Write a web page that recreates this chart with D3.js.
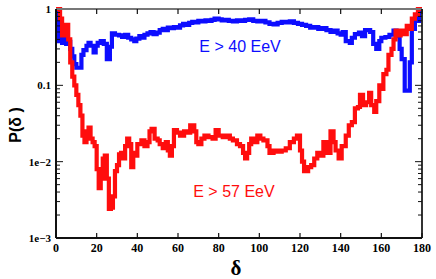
<!DOCTYPE html>
<html><head><meta charset="utf-8">
<script src="https://cdn.jsdelivr.net/npm/d3@7"></script>
<style>body{margin:0;background:#fff}svg{display:block}</style>
</head><body>
<script>
const xTicks = [0,20,40,60,80,100,120,140,160,180];
const yTicks = [1e-3,1e-2,0.1,1];
const yTickLabels = ["1e\u22123","1e\u22122","0.1","1"];
const labels = ["E > 40 EeV","E > 57 EeV"];

const blueDelta = [0,1,2,3,4,5,6,7,8,9,10,12.5,13.5,15,16,17,18.5,19.5,20.5,22,23.5,25,26.5,27.5,29,31,32.5,34,35.5,37,38.5,39.5,41,42.5,43.5,45,46.5,48,49.5,51,52.5,54,55,56.5,58,59.5,61,62.5,64,65.5,67,68.5,70,72,73.5,75,76.5,78,80,81.5,83,85,87,89,91,93,95,97,99,101,103,105,107,109,111,113,115,117,119,121,123,125,127,129,131,133,135,137,138.5,140,141,142.5,144.5,145.5,147,149,150.5,152,154.5,156,157.5,159,160,162,164,166,167.5,169,170,171.5,174,175,176.5,178.5,180];
const blueP = [1.0,0.38,0.45,0.36,0.42,0.35,0.37,0.30,0.24,0.19,0.17,0.25,0.29,0.33,0.36,0.33,0.27,0.33,0.36,0.38,0.35,0.22,0.32,0.48,0.46,0.45,0.43,0.46,0.42,0.40,0.38,0.41,0.44,0.42,0.46,0.48,0.50,0.47,0.49,0.53,0.55,0.53,0.57,0.56,0.58,0.57,0.61,0.64,0.62,0.66,0.68,0.67,0.70,0.69,0.71,0.70,0.72,0.75,0.73,0.71,0.72,0.70,0.69,0.71,0.70,0.72,0.73,0.70,0.69,0.70,0.67,0.64,0.63,0.66,0.68,0.67,0.69,0.66,0.64,0.62,0.60,0.57,0.58,0.55,0.56,0.53,0.50,0.52,0.48,0.46,0.50,0.38,0.36,0.42,0.47,0.49,0.44,0.53,0.50,0.35,0.30,0.38,0.42,0.43,0.46,0.52,0.44,0.30,0.22,0.085,0.20,0.55,0.70,0.90,1.0];

const redDelta = [0,2,3,4,5,6,7,8,9,10,11,12,13,14,15,16,17,18,19,20,21,22,23,24,25,26,27,28,29,30,31,32,33,34,35,36,37,38,39,40,42,43.5,45,46,47,48.5,50,51,52.5,54,55,56,57,58,59.5,61,63,64.5,66,68,69,70,71.5,73,75,77,78.5,80,82,84,85.5,87,89,90.5,92,93,94,95,96,97.5,99,100.5,102,104,105,107,109,111,113,115,117,118.5,120,121,122,124,125.5,127,128.5,130,131.5,133,135,136.5,137.5,139,140.5,142.5,144,145.5,147,148.5,149.5,151,152.5,154,155,156.5,157.5,159,160.5,161,162.5,163.5,165,166,167,168,169.5,171,172.5,174,175,176.5,178,180];
const redP = [1.0,0.75,0.45,0.55,0.62,0.40,0.20,0.13,0.10,0.075,0.055,0.04,0.022,0.018,0.025,0.028,0.020,0.018,0.016,0.008,0.0045,0.006,0.011,0.012,0.006,0.0024,0.0025,0.0035,0.0075,0.009,0.0125,0.013,0.011,0.016,0.020,0.017,0.0085,0.013,0.012,0.017,0.019,0.016,0.018,0.025,0.027,0.020,0.019,0.017,0.015,0.018,0.014,0.012,0.016,0.026,0.024,0.022,0.025,0.024,0.030,0.025,0.018,0.017,0.020,0.022,0.021,0.020,0.026,0.022,0.021,0.022,0.020,0.019,0.017,0.016,0.013,0.011,0.013,0.017,0.020,0.018,0.022,0.020,0.019,0.016,0.013,0.014,0.0135,0.014,0.015,0.018,0.020,0.022,0.014,0.010,0.0075,0.0085,0.009,0.011,0.013,0.012,0.018,0.013,0.025,0.018,0.014,0.011,0.016,0.022,0.030,0.033,0.05,0.052,0.075,0.055,0.060,0.080,0.055,0.045,0.062,0.10,0.09,0.14,0.16,0.25,0.30,0.40,0.52,0.45,0.52,0.47,0.60,0.55,0.75,0.85,1.0,1.0];

const W = 436, H = 279;
const m = {l:56, t:9, r:14, b:41};
const svg = d3.select("body").append("svg").attr("width",W).attr("height",H);
const x = d3.scaleLinear().domain([0,180]).range([m.l, W-m.r]);
const y = d3.scaleLog().domain([1e-3,1]).range([H-m.b, m.t]);

svg.append("clipPath").attr("id","clip").append("rect")
  .attr("x",m.l).attr("y",m.t-2).attr("width",W-m.l-m.r).attr("height",H-m.t-m.b+2);

const line = d3.line().x(d=>x(d[0])).y(d=>y(d[1])).curve(d3.curveStepAfter);
const series = [
  {d:blueDelta, p:blueP, c:"#0d0dff"},
  {d:redDelta, p:redP, c:"#ff0d0d"}
];
series.forEach(s=>{
  svg.append("path").datum(s.d.map((v,i)=>[v,s.p[i]]))
    .attr("d",line).attr("fill","none").attr("stroke",s.c)
    .attr("stroke-width",4.2).attr("stroke-linejoin","miter")
    .attr("clip-path","url(#clip)");
});

// frame
const x0=x(0), x1=x(180), y0=y(1e-3), y1=y(1);
svg.append("line").attr("x1",x0).attr("x2",x1).attr("y1",y1).attr("y2",y1).attr("stroke","#777").attr("stroke-width",2);
svg.append("line").attr("x1",x1).attr("x2",x1).attr("y1",y1).attr("y2",y0).attr("stroke","#333").attr("stroke-width",2);
svg.append("line").attr("x1",x0).attr("x2",x1).attr("y1",y0).attr("y2",y0).attr("stroke","#111").attr("stroke-width",2);
svg.append("line").attr("x1",x0).attr("x2",x0).attr("y1",y1).attr("y2",y0).attr("stroke","#111").attr("stroke-width",2);

// x ticks (inward, top & bottom)
const xt = svg.append("g");
xTicks.forEach(t=>{
  xt.append("line").attr("x1",x(t)).attr("x2",x(t)).attr("y1",y0).attr("y2",y0-5).attr("stroke","#111").attr("stroke-width",1.2);
  xt.append("line").attr("x1",x(t)).attr("x2",x(t)).attr("y1",y1).attr("y2",y1+5).attr("stroke","#111").attr("stroke-width",1.2);
  xt.append("text").attr("x",x(t)).attr("y",y0+14).attr("text-anchor","middle")
    .attr("font-family","Liberation Serif, Times New Roman, serif").attr("font-weight","bold")
    .attr("font-size",12).text(t);
});

// y ticks (log, inward, both sides)
const yt = svg.append("g");
for (let e=-3; e<0; e++){
  for (let k=1;k<=9;k++){
    const v = k*Math.pow(10,e);
    const len = k===1?7:4;
    yt.append("line").attr("x1",x0).attr("x2",x0+len).attr("y1",y(v)).attr("y2",y(v)).attr("stroke","#111").attr("stroke-width",1);
    yt.append("line").attr("x1",x1).attr("x2",x1-len).attr("y1",y(v)).attr("y2",y(v)).attr("stroke","#111").attr("stroke-width",1);
  }
}
yTicks.forEach((t,i)=>{
  yt.append("text").attr("x",x0-5).attr("y",y(t)+4).attr("text-anchor","end")
    .attr("font-family","Liberation Serif, Times New Roman, serif").attr("font-weight","bold")
    .attr("font-size",11).text(yTickLabels[i]);
});

// series labels
svg.append("text").attr("x",x(70.5)).attr("y",52).attr("fill","#0d0dff")
  .attr("font-family","Liberation Sans, Arial, sans-serif").attr("font-size",16).text(labels[0]);
svg.append("text").attr("x",x(67.5)).attr("y",197).attr("fill","#ff0d0d")
  .attr("font-family","Liberation Sans, Arial, sans-serif").attr("font-size",16).text(labels[1]);

// axis titles
svg.append("text").attr("transform","translate(21,125) rotate(-90)").attr("text-anchor","middle")
  .attr("font-family","Liberation Sans, Arial, sans-serif").attr("font-weight","bold").attr("font-size",16)
  .text("P(\u03b4 )");
svg.append("text").attr("x",x(90)-3).attr("y",275).attr("text-anchor","middle")
  .attr("font-family","Liberation Serif, Times New Roman, serif").attr("font-weight","bold").attr("font-size",21)
  .text("\u03b4");
</script>
</body></html>
